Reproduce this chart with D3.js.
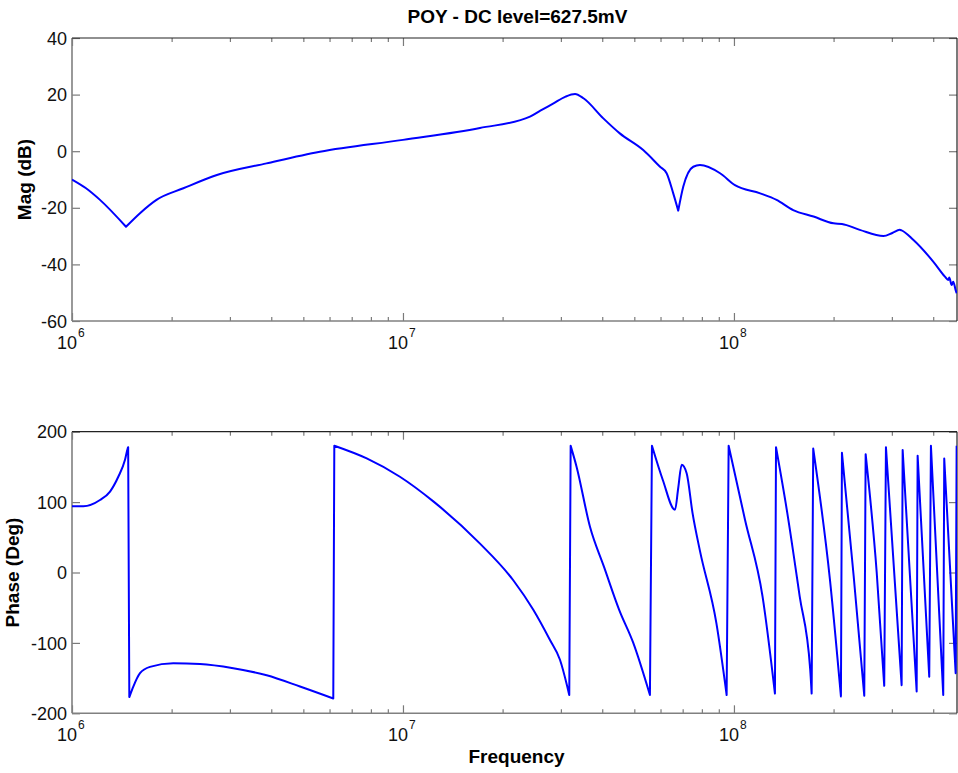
<!DOCTYPE html>
<html>
<head>
<meta charset="utf-8">
<script src="https://cdn.jsdelivr.net/npm/d3@7"></script>
<style>
  body { margin: 0; background: #fff; }
  svg { display: block; font-family: "Liberation Sans", Arial, sans-serif; }
</style>
</head>
<body>
<svg width="958" height="773"></svg>
<script>
// magnitude trace (Hz, dB)
const magFreq = [1.0e6, 1.1e6, 1.215e6, 1.456e6, 1.605e6, 1.80e6, 2.17e6, 2.74e6, 3.87e6, 5.61e6,
  1.0e7, 1.708e7, 2.42e7, 2.6e7, 2.85e7, 3.1e7, 3.31e7, 3.51e7, 4.03e7, 4.52e7, 5.32e7, 5.98e7,
  6.26e7, 6.555e7, 6.787e7, 7.03e7, 7.535e7, 7.895e7, 9.08e7, 1.007e8, 1.20e8, 1.345e8, 1.51e8,
  1.74e8, 2.0e8, 2.12e8, 2.40e8, 2.83e8, 3.01e8, 3.17e8, 3.21e8, 3.48e8, 4.0e8, 4.34e8, 4.44e8,
  4.473e8, 4.548e8, 4.598e8, 4.676e8, 4.708e8];
const magDb = [-10, -13, -17.2, -26.7, -21.9, -17.2, -13.1, -8.4, -4.3, -0.2,
  4.0, 8.2, 12.2, 14.3, 16.9, 19.3, 20.2, 18.7, 11.6, 6.3, 0.4, -5.5,
  -7.8, -14.9, -21, -12.5, -5.5, -4.9, -7.8, -12, -14.9, -17.2, -20.8,
  -23.1, -25.5, -25.7, -27.8, -30, -28.9, -27.8, -28, -31.3, -39, -44.3, -45.5,
  -44.6, -47.3, -46.1, -49.1, -50.2];
// sharp notches in the magnitude (index into the arrays above)
const magCorners = [3, 24];

// phase trace (Hz, deg), wrapped to +/-180
const phaseFreq = [1.0e6, 1.082e6, 1.215e6, 1.303e6, 1.38e6, 1.446e6, 1.473e6, 1.478e6, 1.49e6,
  1.532e6, 1.605e6, 1.72e6, 2.023e6, 2.436e6, 3.071e6, 3.875e6, 4.885e6, 6.158e6, 6.202e6,
  7.77e6, 9.79e6, 1.235e7, 1.709e7, 2.154e7, 2.476e7, 2.781e7, 2.981e7, 3.136e7, 3.18e7,
  3.211e7, 3.347e7, 3.673e7, 4.05e7, 4.50e7, 4.964e7, 5.574e7,
  5.653e7, 6.10e7, 6.634e7, 6.787e7, 6.95e7, 7.196e7, 7.50e7, 7.90e7, 8.85e7, 9.504e7,
  9.638e7, 1.08e8, 1.22e8, 1.330e8,
  1.340e8, 1.45e8, 1.58e8, 1.70e8, 1.717e8,
  1.736e8, 1.95e8, 2.105e8,
  2.120e8, 2.30e8, 2.476e8,
  2.500e8, 2.70e8, 2.845e8,
  2.879e8, 3.211e8,
  3.234e8, 3.565e8,
  3.589e8, 3.891e8,
  3.937e8, 4.289e8,
  4.319e8, 4.676e8,
  4.708e8];
const phaseDeg = [94, 94, 103, 115, 136, 160, 176, 178, -177,
  -162, -143, -134, -129, -130, -136, -146, -162, -179, 180,
  162, 136, 101, 41, -11, -53, -96, -124, -162, -174,
  180, 150, 65, 8, -53, -100, -174,
  180, 131, 89, 120, 153, 141, 84, 30, -72, -174,
  180, 75, -34, -172,
  178, 84, -34, -138, -172,
  176, -10, -176,
  170, -5, -175,
  168, 0, -161,
  178, -160,
  174, -169,
  166, -148,
  180, -174,
  162, -143,
  180];
// wrap points: both ends of every +/-180 jump are corners
const phaseCorners = [];
phaseDeg.forEach((v, i) => {
  if (i > 0 && Math.abs(v - phaseDeg[i - 1]) > 200) phaseCorners.push(i - 1, i);
});

const magTicks = [40, 20, 0, -20, -40, -60];
const phaseTicks = [200, 100, 0, -100, -200];
const decades = [1e6, 1e7, 1e8];
const minorTicks = [];
decades.forEach(d => { for (let k = 2; k <= 9; k++) if (d * k <= 4.72e8) minorTicks.push(d * k); });

const left = 72, right = 957;
const topPanel = {y0: 38, y1: 321};
const botPanel = {y0: 431.7, y1: 713.3};

const svg = d3.select("svg");

const x = d3.scaleLog().domain([1e6, 4.72e8]).range([left, right]);

const smooth = d3.line().curve(d3.curveMonotoneX);

// smooth runs between corner points, joined into one path
function tracePath(pts, corners) {
  const cut = new Set(corners);
  let d = "", run = [pts[0]];
  for (let i = 1; i < pts.length; i++) {
    run.push(pts[i]);
    if (cut.has(i) || i === pts.length - 1) {
      const seg = smooth(run);
      d += d === "" ? seg : "L" + seg.slice(1);
      run = [pts[i]];
    }
  }
  return d;
}

function drawPanel(panel, yDomain, yTickVals, freqs, vals, corners, ylabel, labelX, id) {
  const y = d3.scaleLinear().domain(yDomain).range([panel.y0, panel.y1]);
  const g = svg.append("g");

  g.append("clipPath").attr("id", id)
    .append("rect")
    .attr("x", left).attr("y", panel.y0 - 2)
    .attr("width", right - left).attr("height", panel.y1 - panel.y0 + 4);

  // x ticks, bottom and top, pointing inward
  const xb = g.append("g").attr("transform", "translate(0," + panel.y1 + ")");
  xb.call(d3.axisBottom(x).tickValues(decades).tickSize(-8).tickFormat(""));
  xb.append("g").call(d3.axisBottom(x).tickValues(minorTicks).tickSize(-4).tickFormat(""));
  const xt = g.append("g").attr("transform", "translate(0," + panel.y0 + ")");
  xt.call(d3.axisTop(x).tickValues(decades).tickSize(-8).tickFormat(""));
  xt.append("g").call(d3.axisTop(x).tickValues(minorTicks).tickSize(-4).tickFormat(""));

  // y ticks, left and right
  const yl = g.append("g").attr("transform", "translate(" + left + ",0)")
    .call(d3.axisLeft(y).tickValues(yTickVals).tickSize(-8).tickPadding(5).tickFormat(d => String(d)));
  g.append("g").attr("transform", "translate(" + right + ",0)")
    .call(d3.axisRight(y).tickValues(yTickVals).tickSize(-8).tickFormat(""));

  g.selectAll(".domain").remove();
  g.selectAll(".tick line").attr("stroke", "#7a7a7a").attr("stroke-width", 1.2);
  yl.selectAll("text")
    .attr("font-size", 18)
    .attr("fill", "#111")
    .attr("dy", "0.34em");

  // box: gray left/bottom, dark top/right
  g.append("line").attr("x1", left).attr("x2", right).attr("y1", panel.y1).attr("y2", panel.y1)
    .attr("stroke", "#808080").attr("stroke-width", 1.6);
  g.append("line").attr("x1", left).attr("x2", left).attr("y1", panel.y0).attr("y2", panel.y1)
    .attr("stroke", "#808080").attr("stroke-width", 1.6);
  g.append("line").attr("x1", left).attr("x2", right).attr("y1", panel.y0).attr("y2", panel.y0)
    .attr("stroke", "#222").attr("stroke-width", 1.2);
  g.append("line").attr("x1", right).attr("x2", right).attr("y1", panel.y0).attr("y2", panel.y1)
    .attr("stroke", "#222").attr("stroke-width", 1.2);

  // decade labels 10^n
  decades.forEach(d => {
    const px = x(d);
    const e = Math.round(Math.log10(d));
    g.append("text").attr("x", px + 5).attr("y", panel.y1 + 28)
      .attr("text-anchor", "end").attr("font-size", 18).attr("fill", "#111").text("10");
    g.append("text").attr("x", px + 6).attr("y", panel.y1 + 16)
      .attr("font-size", 12).attr("fill", "#111").text(e);
  });

  // y label
  g.append("text")
    .attr("transform", "translate(" + labelX + "," + ((panel.y0 + panel.y1) / 2) + ") rotate(-90)")
    .attr("text-anchor", "middle")
    .attr("font-size", 19).attr("font-weight", "bold").attr("fill", "#000")
    .text(ylabel);

  const pts = vals.map((v, i) => [x(freqs[i]), y(v)]);

  g.append("path")
    .attr("clip-path", "url(#" + id + ")")
    .attr("d", tracePath(pts, corners))
    .attr("fill", "none")
    .attr("stroke", "#0000ff")
    .attr("stroke-width", 2)
    .attr("stroke-linejoin", "round");
}

drawPanel(topPanel, [40, -60], magTicks, magFreq, magDb, magCorners, "Mag (dB)", 31, "clipMag");
drawPanel(botPanel, [200, -200], phaseTicks, phaseFreq, phaseDeg, phaseCorners, "Phase (Deg)", 19, "clipPhase");

svg.append("text")
  .attr("x", (left + right) / 2 + 3).attr("y", 23)
  .attr("text-anchor", "middle")
  .attr("font-size", 19).attr("font-weight", "bold")
  .text("POY - DC level=627.5mV");

svg.append("text")
  .attr("x", (left + right) / 2 + 2).attr("y", 763)
  .attr("text-anchor", "middle")
  .attr("font-size", 19).attr("font-weight", "bold")
  .text("Frequency");
</script>
</body>
</html>
